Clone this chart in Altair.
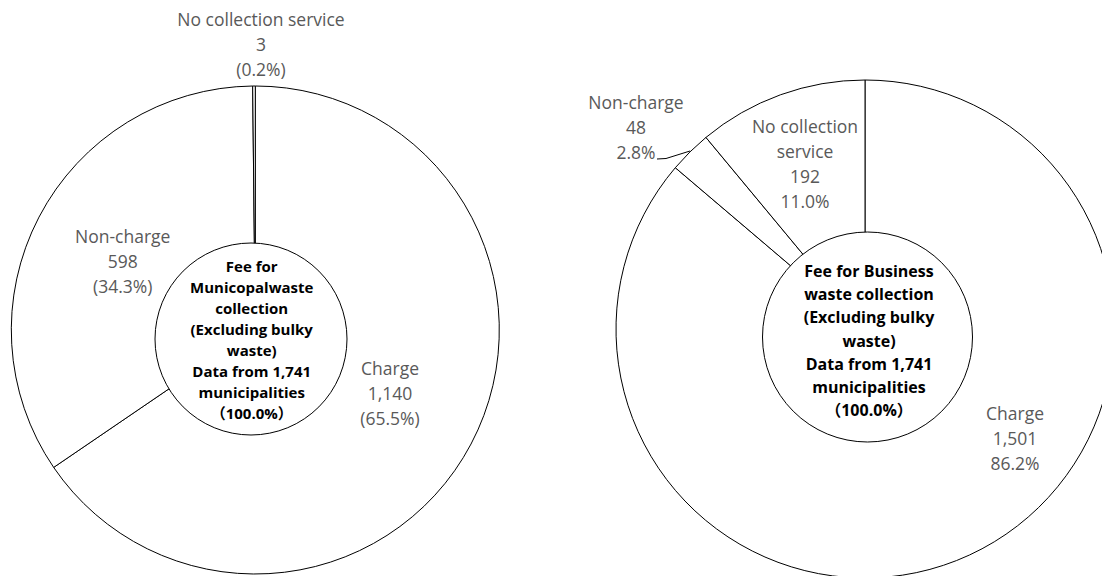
import math
import altair as alt
import pandas as pd

# ---- data ----
categories = ["Charge", "Non-charge", "No collection service"]
order_idx = [0, 1, 2]

muni_counts = [1140, 598, 3]
muni_pcts = ["65.5%", "34.3%", "0.2%"]
muni_names = ["Charge", "Non-charge", "No collection service"]

biz_counts = [1501, 48, 192]
biz_pcts = ["86.2%", "2.8%", "11.0%"]
biz_names = ["Charge", "Non-charge", "No collection\nservice"]

muni_title = ["Fee for", "Municopalwaste", "collection", "(Excluding bulky",
              "waste)", "Data from 1,741", "municipalities", "（100.0%）"]
biz_title = ["Fee for Business", "waste collection", "(Excluding bulky",
             "waste)", "Data from 1,741", "municipalities", "（100.0%）"]

FONT = "Open Sans, Noto Sans CJK JP, sans-serif"
GRAY = "#595959"


def make_df(counts, pcts, names, paren):
    labels = []
    for n, c, p in zip(names, counts, pcts):
        pp = f"({p})" if paren else p
        labels.append(f"{n}\n{c:,}\n{pp}")
    return pd.DataFrame({"category": categories, "idx": order_idx,
                         "count": counts, "label": labels})


muni_df = make_df(muni_counts, muni_pcts, muni_names, True)
biz_df = make_df(biz_counts, biz_pcts, biz_names, False)


def pie(df, cx, cy, r):
    return alt.Chart(df).mark_arc(
        outerRadius=r, innerRadius=0, fill="white", stroke="black",
        strokeWidth=1, tooltip=False
    ).encode(
        theta=alt.Theta("count:Q", stack=True),
        order=alt.Order("idx:Q", sort="ascending"),
        x=alt.value(cx), y=alt.value(cy),
    )


def hub(lines, cx, cy, r, fs, lh, tx, ty):
    d = pd.DataFrame({"t": ["\n".join(lines)]})
    # Vega symbol size is the area of the bounding square: (2r)^2
    circ = alt.Chart(d).mark_circle(
        size=(2 * r) ** 2, fill="white", stroke="black", strokeWidth=1,
        opacity=1, fillOpacity=1
    ).encode(x=alt.value(cx), y=alt.value(cy))
    txt = alt.Chart(d).mark_text(
        font=FONT, fontSize=fs, fontWeight="bold", lineHeight=lh,
        lineBreak="\n", align="center", baseline="middle", color="black"
    ).encode(text="t:N", x=alt.value(tx), y=alt.value(ty))
    return [circ, txt]


def label(df, cat, x, y):
    return alt.Chart(df).transform_filter(
        alt.datum.category == cat
    ).mark_text(
        font=FONT, fontSize=17.5, lineHeight=25, lineBreak="\n",
        align="center", baseline="middle", color=GRAY
    ).encode(text="label:N", x=alt.value(x), y=alt.value(y))


one = pd.DataFrame({"a": [0]})
leader1 = alt.Chart(one).mark_rule(color="black", strokeWidth=1).encode(
    x=alt.value(657), x2=alt.value(666), y=alt.value(159), y2=alt.value(158.5))
leader2 = alt.Chart(one).mark_rule(color="black", strokeWidth=1).encode(
    x=alt.value(666), x2=alt.value(690), y=alt.value(158.5), y2=alt.value(151))

layers = [
    pie(muni_df, 255.3, 330, 244),
    pie(biz_df, 865, 329, 249),
    *hub(muni_title, 251, 339, 96, 15, 21, 251.7, 267),
    *hub(biz_title, 867.5, 337, 105, 16, 23.2, 869, 272),
    label(muni_df, "No collection service", 261, 21),
    label(muni_df, "Non-charge", 122.7, 238),
    label(muni_df, "Charge", 390, 370),
    label(biz_df, "Non-charge", 636, 104),
    label(biz_df, "No collection service", 805, 128),
    label(biz_df, "Charge", 1015, 415),
    leader1, leader2,
]

chart = alt.layer(*layers).resolve_scale(theta="independent").properties(
    width=1102, height=576, padding=0,
    autosize=alt.AutoSizeParams(type="none"),
    background="white",
).configure_view(stroke=None)

chart.save("out.html", embed_options={"renderer": "svg", "actions": False})
